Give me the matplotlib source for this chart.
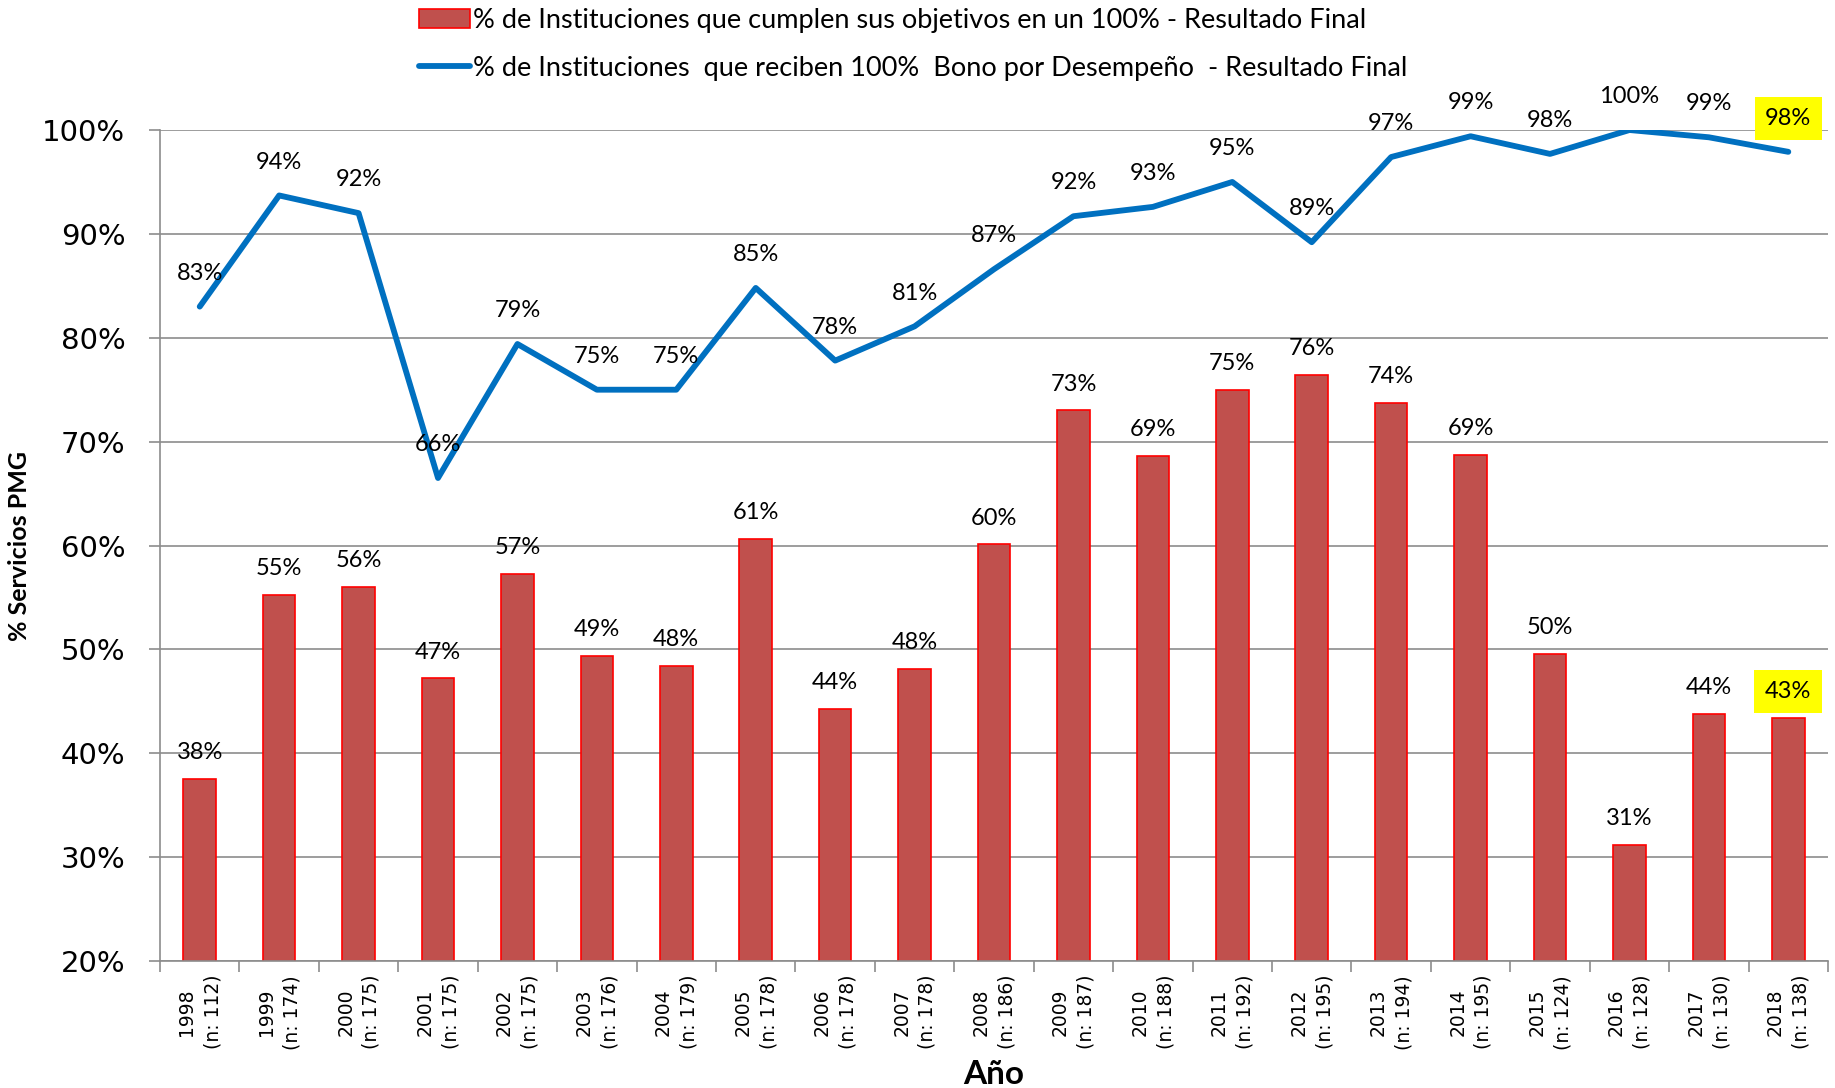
import numpy as np
import matplotlib
matplotlib.use('Agg')
import matplotlib.pyplot as plt
from matplotlib.ticker import FixedLocator, PercentFormatter

# data
years = ['1998', '1999', '2000', '2001', '2002', '2003', '2004', '2005', '2006', '2007', '2008',
         '2009', '2010', '2011', '2012', '2013', '2014', '2015', '2016', '2017', '2018']
n_inst = [112, 174, 175, 175, 175, 176, 179, 178, 178, 178, 186,
          187, 188, 192, 195, 194, 195, 124, 128, 130, 138]
cumplen = [37.5, 55.2, 56.0, 47.2, 57.3, 49.4, 48.4, 60.6, 44.3, 48.1, 60.1,
           73.0, 68.6, 75.0, 76.4, 73.7, 68.7, 49.6, 31.2, 43.8, 43.4]
bono = [83.0, 93.7, 92.0, 66.5, 79.4, 75.0, 75.0, 84.8, 77.8, 81.1, 86.6,
        91.7, 92.6, 95.0, 89.2, 97.4, 99.4, 97.7, 100.0, 99.3, 97.9]
bar_name = '% de Instituciones que cumplen sus objetivos en un 100% - Resultado Final'
line_name = '% de Instituciones  que reciben 100%  Bono por Desempeño  - Resultado Final'

label_font = 'Lato'
bar_color = '#C0504D'
line_color = '#0070C0'
grid_color = '#8c8c8c'

fig = plt.figure(figsize=(18.35, 10.88), dpi=100)
ax = fig.add_axes([0.0872, 0.1167, 0.909, 0.7638])

x = np.arange(len(years))
bars = ax.bar(x, cumplen, width=0.41, color=bar_color, edgecolor='#FF0000', linewidth=1.2,
              zorder=2, label=bar_name)
line, = ax.plot(x, bono, color=line_color, linewidth=4.2, solid_capstyle='round', zorder=3,
                label=line_name)

# last year's labels get a yellow highlight
last = len(years) - 1
hl = dict(boxstyle='square,pad=0.45', fc='#FFFF00', ec='none')
for i, v in enumerate(cumplen):
    ax.annotate(f'{round(v):.0f}%', (x[i], v), xytext=(0, 19), textcoords='offset points',
                ha='center', va='center', fontsize=17, family=label_font,
                bbox=hl if i == last else None, zorder=4)
for i, v in enumerate(bono):
    ax.annotate(f'{round(v):.0f}%', (x[i], v), xytext=(0, 24), textcoords='offset points',
                ha='center', va='center', fontsize=17, family=label_font,
                bbox=hl if i == last else None, zorder=4)

ax.set_ylim(20, 100)
ax.set_xlim(-0.5, len(years) - 0.5)
ax.set_yticks(np.arange(20, 101, 10))
ax.yaxis.set_major_formatter(PercentFormatter(decimals=0))
ax.tick_params(axis='y', labelsize=21, length=8, width=1.2, color=grid_color, pad=17)
ax.grid(axis='y', color=grid_color, linewidth=1.2, zorder=0)

ax.set_xticks(x)
ax.set_xticklabels([f'{y}\n(n: {n})' for y, n in zip(years, n_inst)], rotation=90,
                   ha='center', va='top', multialignment='center', fontsize=13.5,
                   linespacing=1.45)
ax.tick_params(axis='x', which='major', length=0, pad=10)
ax.xaxis.set_minor_locator(FixedLocator(np.arange(-0.5, len(years), 1.0)))
ax.tick_params(axis='x', which='minor', length=8, width=1.2, color=grid_color)

for side in ['top', 'right']:
    ax.spines[side].set_visible(False)
for side in ['left', 'bottom']:
    ax.spines[side].set_color(grid_color)
    ax.spines[side].set_linewidth(1.2)

ax.set_ylabel('% Servicios PMG', fontsize=18, fontweight='bold', family=label_font, labelpad=8)
ax.set_xlabel('Año', fontsize=24, fontweight='bold', family=label_font, va='center')
ax.xaxis.set_label_coords(0.5, -0.136)

fig.legend(handles=[bars, line], loc='upper center', bbox_to_anchor=(0.4976, 1.003), ncol=1,
           frameon=False, prop={'family': label_font, 'size': 19.5}, labelspacing=0.85,
           handlelength=1.9, handletextpad=0.1, borderaxespad=0)

fig.savefig('out.png', dpi=100)
